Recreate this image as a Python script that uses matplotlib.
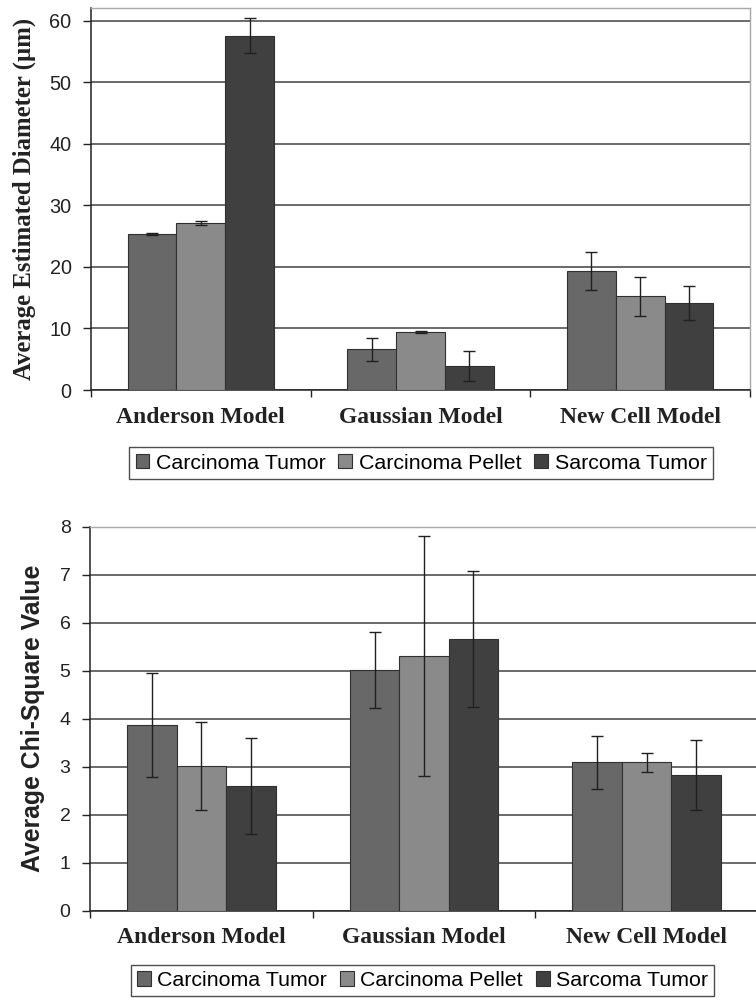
import matplotlib
matplotlib.use("Agg")
import matplotlib.pyplot as plt
import numpy as np
from matplotlib.patches import Patch

models = ["Anderson Model", "Gaussian Model", "New Cell Model"]
series = ["Carcinoma Tumor", "Carcinoma Pellet", "Sarcoma Tumor"]
colors = ["#686868", "#8a8a8a", "#404040"]

# average estimated diameter (um)
diam_ct = [25.4, 6.6, 19.4]
diam_cp = [27.1, 9.4, 15.2]
diam_st = [57.6, 3.9, 14.1]
diam_ct_err = [0.15, 1.9, 3.1]
diam_cp_err = [0.35, 0.15, 3.1]
diam_st_err = [2.8, 2.5, 2.8]

# average chi-square value
chi_ct = [3.87, 5.01, 3.09]
chi_cp = [3.02, 5.30, 3.09]
chi_st = [2.59, 5.66, 2.83]
chi_ct_err = [1.08, 0.79, 0.56]
chi_cp_err = [0.92, 2.50, 0.20]
chi_st_err = [1.00, 1.42, 0.73]

SANS = ["Liberation Sans", "DejaVu Sans"]
SERIF = ["Liberation Serif", "DejaVu Serif"]
GRID = "#505050"
INK = "#222222"

fig = plt.figure(figsize=(7.56, 10), dpi=100)


def panel(ax, vals, errs, ymax, yticks, ylabel, ylab_font, ylab_fs, tick_fs):
    x = np.arange(len(models))
    w = 1 / 4.5
    for i, (v, e) in enumerate(zip(vals, errs)):
        ax.bar(x + (i - 1) * w, v, w, color=colors[i], edgecolor="#303030",
               linewidth=0.8, zorder=3)
        ax.errorbar(x + (i - 1) * w, v, yerr=e, fmt="none", ecolor="#202020",
                    elinewidth=1.0, capsize=4, capthick=1.0, zorder=4)
    ax.set_xlim(-0.5, len(models) - 0.5)
    ax.set_ylim(0, ymax)
    ax.set_yticks(yticks)
    ax.set_yticklabels([str(t) for t in yticks], fontfamily=SANS,
                       fontsize=tick_fs, color=INK)
    ax.yaxis.grid(True, color=GRID, lw=1.2, zorder=0)
    ax.set_axisbelow(True)
    # category boundaries carry the ticks, names sit between them
    ax.set_xticks(np.arange(-0.5, len(models)))
    ax.set_xticklabels([])
    ax.set_xticks(x, minor=True)
    ax.set_xticklabels(models, minor=True, fontfamily=SERIF,
                       fontweight="bold", fontsize=17, color=INK)
    ax.tick_params(axis="x", which="minor", length=0, pad=12)
    ax.tick_params(axis="x", which="major", length=5, width=1, color=INK)
    ax.tick_params(axis="y", length=6, width=1, color=INK, pad=8)
    for s in ["left", "bottom"]:
        ax.spines[s].set_color(INK)
        ax.spines[s].set_linewidth(1.1)
    for s in ["top", "right"]:
        ax.spines[s].set_color("#a8a8a8")
        ax.spines[s].set_linewidth(1.0)
    ax.set_ylabel(ylabel, fontfamily=ylab_font, fontweight="bold",
                  fontsize=ylab_fs, color=INK)


ax1 = fig.add_axes([91 / 756, 0.61, (750 - 91) / 756, 0.382])
panel(ax1, [diam_ct, diam_cp, diam_st], [diam_ct_err, diam_cp_err, diam_st_err],
      62.1, [0, 10, 20, 30, 40, 50, 60], "Average Estimated Diameter (µm)",
      SERIF, 17.8, 14.3)
ax1.yaxis.set_label_coords(-0.084, 0.5)

ax2 = fig.add_axes([90 / 756, 0.0893, (758 - 90) / 756, 0.384])
panel(ax2, [chi_ct, chi_cp, chi_st], [chi_ct_err, chi_cp_err, chi_st_err],
      8, [0, 1, 2, 3, 4, 5, 6, 7, 8], "Average Chi-Square Value",
      SANS, 17.8, 14)
ax2.yaxis.set_label_coords(-0.067, 0.5)

handles = [Patch(facecolor=c, edgecolor="#303030", lw=0.8) for c in colors]


def legend(cx, cy):
    leg = fig.legend(handles, series, loc="center",
                     bbox_to_anchor=(cx / 756, 1 - cy / 1000),
                     ncol=3, frameon=True, fancybox=False, handlelength=0.65,
                     handleheight=0.65, handletextpad=0.3, columnspacing=0.6,
                     borderpad=0.3, borderaxespad=0,
                     prop={"family": SANS, "size": 15.4})
    leg.get_frame().set_edgecolor(INK)
    leg.get_frame().set_linewidth(1.0)
    return leg


legend(421, 463)
legend(422.5, 980.5)

fig.savefig("out.png", dpi=100, facecolor="white")
